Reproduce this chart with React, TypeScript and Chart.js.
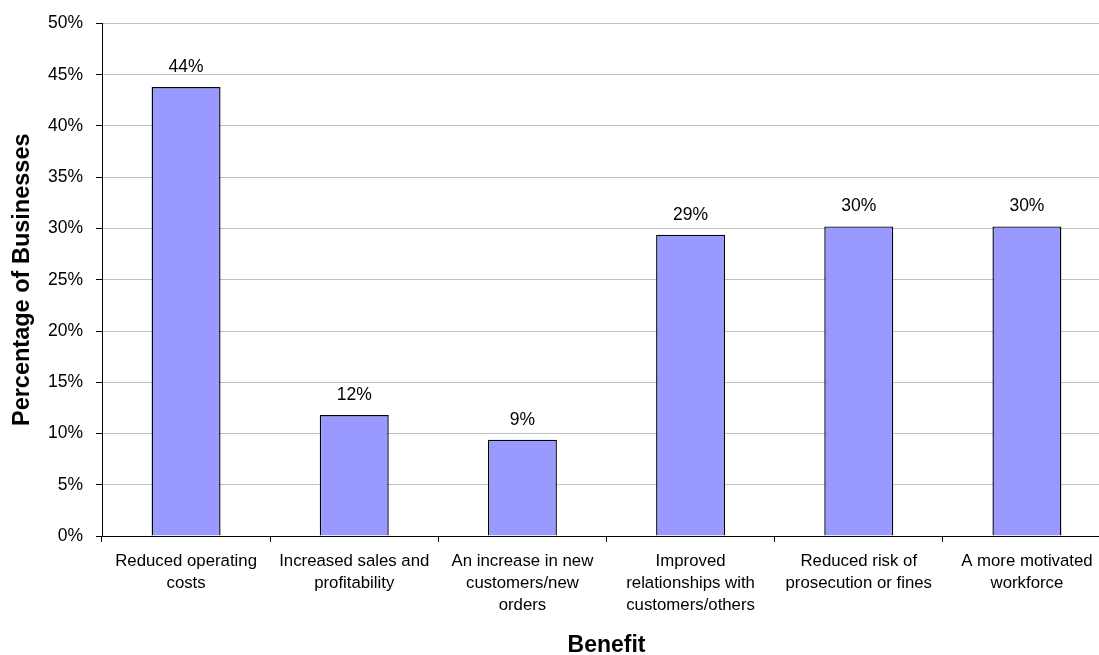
import React, { useEffect, useRef } from "react";
import { Chart, registerables } from "chart.js";

Chart.register(...registerables);

const categories: string[][] = [
  ["Reduced operating", "costs"],
  ["Increased sales and", "profitability"],
  ["An increase in new", "customers/new", "orders"],
  ["Improved", "relationships with", "customers/others"],
  ["Reduced risk of", "prosecution or fines"],
  ["A more motivated", "workforce"],
];
const values: number[] = [43.8, 11.8, 9.4, 29.4, 30.2, 30.2];
const yTicksMin = 0;
const yTicksMax = 50;
const yTicksStep = 5;

const FONT = '"Liberation Sans", Arial, sans-serif';

const valueLabelPlugin = {
  id: "valueLabels",
  afterDatasetsDraw(chart: any) {
    const ctx = chart.ctx;
    const meta = chart.getDatasetMeta(0);
    ctx.save();
    ctx.font = `17.5px ${FONT}`;
    ctx.fillStyle = "#000";
    ctx.textAlign = "center";
    ctx.textBaseline = "alphabetic";
    meta.data.forEach((bar: any, i: number) => {
      ctx.fillText(Math.round(values[i]) + "%", bar.x, bar.y - 15);
    });
    ctx.restore();
  },
};

export default function App() {
  const ref = useRef<HTMLCanvasElement | null>(null);

  useEffect(() => {
    document.body.style.margin = "0";
    document.body.style.overflow = "hidden";
    if (!ref.current) return;
    const chart = new Chart(ref.current, {
      type: "bar",
      data: {
        labels: categories,
        datasets: [
          {
            data: values,
            backgroundColor: "#9999FF",
            borderColor: "#000000",
            borderWidth: 1.4,
            barPercentage: 0.41,
            categoryPercentage: 1,
          },
        ],
      },
      options: {
        responsive: false,
        animation: false,
        devicePixelRatio: 1,
        layout: { padding: { left: 0, right: 9, top: 23, bottom: 0 } },
        plugins: {
          legend: { display: false },
          tooltip: { enabled: false },
        },
        scales: {
          x: {
            grid: {
              drawOnChartArea: false,
              offset: true,
              tickLength: 6,
              tickColor: "#000",
            },
            border: { color: "#000", width: 1 },
            ticks: {
              color: "#000",
              font: { family: FONT, size: 16.8, lineHeight: 1.29 },
              padding: 9,
              maxRotation: 0,
              minRotation: 0,
              autoSkip: false,
            },
            title: {
              display: true,
              text: "Benefit",
              color: "#000",
              font: { family: FONT, size: 23, weight: "bold", lineHeight: 0.78 },
              padding: { top: 0, bottom: 0 },
            },
            afterFit(scale: any) {
              scale.height = 119;
            },
          },
          y: {
            min: yTicksMin,
            max: yTicksMax,
            grid: {
              color: "#c0c0c0",
              tickLength: 6,
              tickColor: "#000",
            },
            border: { color: "#000", width: 1 },
            ticks: {
              stepSize: yTicksStep,
              color: "#000",
              padding: 13,
              font: { family: FONT, size: 17.5 },
              callback: (v: any) => v + "%",
            },
            title: {
              display: true,
              text: "Percentage of Businesses",
              color: "#000",
              font: { family: FONT, size: 23.5, weight: "bold", lineHeight: 1.2 },
              padding: { top: 8, bottom: 0 },
            },
            afterFit(scale: any) {
              scale.width = 102;
            },
          },
        },
      },
      plugins: [valueLabelPlugin],
    });
    return () => chart.destroy();
  }, []);

  return (
    <div style={{ width: 1099, height: 655, overflow: "hidden", position: "relative" }}>
      <canvas ref={ref} width={1120} height={655} style={{ display: "block", width: 1120, height: 655 }} />
    </div>
  );
}
